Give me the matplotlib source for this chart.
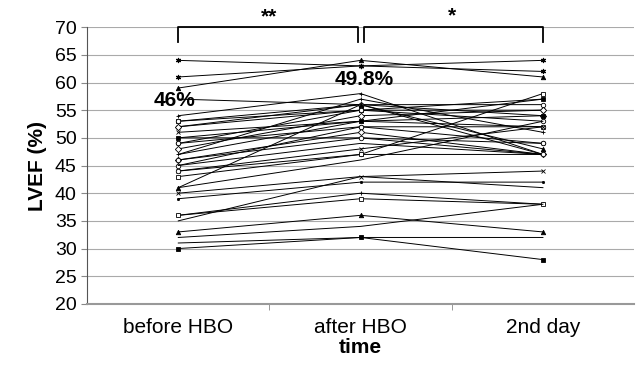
import numpy as np
import matplotlib.pyplot as plt

plt.rcParams['font.family'] = ['Liberation Sans', 'DejaVu Sans']

categories = ['before HBO', 'after HBO', '2nd day']

before = [64, 61, 59, 57, 54, 53, 53, 52, 52, 51, 50, 50, 49, 49, 47, 46, 45, 45,
          44, 44, 43, 41, 41, 40, 39, 36, 36, 35, 33, 32, 31, 30, 48, 46, 47]
after = [63, 63, 64, 56, 58, 55, 56, 55, 56, 53, 53, 50, 55, 52, 57, 51, 52, 49,
         48, 47, 47, 56, 46, 43, 42, 40, 39, 43, 36, 34, 32, 32, 54, 50, 53]
day2 = [62, 64, 61, 47, 47, 57, 56, 55, 54, 52, 54, 47, 53, 52, 51, 47, 49, 47,
        52, 47, 58, 48, 53, 44, 42, 38, 38, 41, 33, 38, 32, 28, 55, 49, 57]

markers = ['$*$', '$*$', '^', '', '+', 's', 'o', 'o', 'D', 'x', 's', '', 'o', 'o',
           '+', 'D', 'o', '', 'x', 'o', 'S', '^', '', 'x', '.', '+', 'S', '', '^',
           '', '', 's', 'D', 'o', '']
fills = {'s': 'black', 'S': 'white', '^': 'black', 'o': 'white', 'D': 'white'}

fig = plt.figure(figsize=(6.36, 3.67), dpi=100)
ax = fig.add_axes([0.137, 0.172, 0.86, 0.754])

x = np.arange(3)
for i in range(len(before)):
    m = markers[i]
    mk = 's' if m == 'S' else m
    ax.plot(x, [before[i], after[i], day2[i]], color='black', lw=0.7,
            marker=mk if mk else None, ms=3.2, mfc=fills.get(m, 'black'),
            mec='black', mew=0.6, zorder=3)

ax.set_ylim(20, 70)
ax.set_xlim(-0.5, 2.5)
ax.set_yticks(np.arange(20, 71, 5))
ax.yaxis.grid(True, color='#aaaaaa', lw=0.8)
ax.set_axisbelow(True)
ax.set_xticks(x)
ax.set_xticklabels(categories, fontsize=15)
ax.set_xticks([0.5, 1.5], minor=True)
ax.tick_params(axis='x', which='major', length=0, pad=10)
ax.tick_params(axis='x', which='minor', length=4, color='#888888')
ax.tick_params(axis='y', labelsize=14, length=4, color='#888888')
for s in ['top', 'right']:
    ax.spines[s].set_visible(False)
ax.spines['left'].set_color('#555555')
ax.spines['bottom'].set_color('#999999')
ax.spines['bottom'].set_linewidth(1.5)

ax.set_ylabel('LVEF (%)', fontsize=15, fontweight='bold', labelpad=6)
ax.set_xlabel('time', fontsize=15, fontweight='bold', labelpad=1)

# significance brackets
ax.plot([0, 0, 0.985, 0.985], [67.3, 70, 70, 67.3], color='black', lw=1.3, clip_on=False, zorder=4)
ax.plot([1.02, 1.02, 2, 2], [67.3, 70, 70, 67.3], color='black', lw=1.3, clip_on=False, zorder=4)
ax.text(0.5, 70.1, '**', ha='center', va='bottom', fontsize=15, fontweight='bold')
ax.text(1.5, 70.3, '*', ha='center', va='bottom', fontsize=15, fontweight='bold')

ax.text(-0.02, 56.8, '46%', ha='center', va='center', fontsize=15, fontweight='bold', zorder=5)
ax.text(1.02, 60.6, '49.8%', ha='center', va='center', fontsize=15, fontweight='bold', zorder=5)

fig.savefig('out.png', dpi=100)
